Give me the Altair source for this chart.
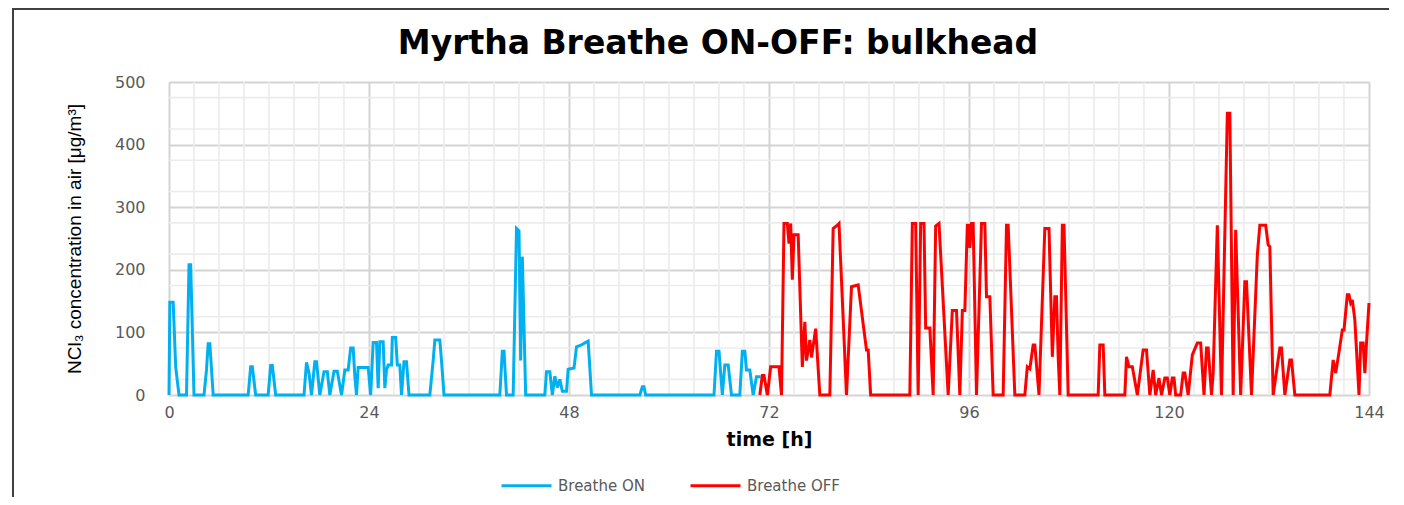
import altair as alt
import pandas as pd

# ---- data ----
on_t = [0.0, 0.1, 0.5, 0.8, 1.2, 2.1, 2.4, 2.6, 3.0, 4.2, 4.5, 4.7, 4.9, 5.3,
        9.5, 9.8, 10.0, 10.4, 11.9, 12.2, 12.4, 12.8,
        16.2, 16.5, 16.8, 17.1, 17.5, 17.7, 18.1, 18.6, 19.0, 19.3, 19.8, 20.2, 20.7,
        21.1, 21.5, 21.8, 22.1, 22.3, 22.5, 22.7, 23.9, 24.2, 24.5, 24.9, 25.1, 25.3,
        25.7, 25.9, 26.1, 26.3, 26.7, 26.8, 27.2, 27.4, 27.7, 27.9, 28.2, 28.5, 28.8,
        31.3, 31.7, 31.9, 32.5, 32.7, 33.0, 39.7, 40.0, 40.2, 40.5,
        41.3, 41.7, 42.0, 42.2, 42.4, 42.8,
        45.1, 45.3, 45.7, 46.0, 46.3, 46.6, 46.9, 47.2, 47.7, 47.9, 48.6, 48.9, 49.5,
        50.0, 50.3, 50.7, 56.5, 56.8, 57.0, 57.2,
        65.4, 65.7, 66.0, 66.4, 66.7, 67.1, 67.5, 68.5, 68.8, 69.1, 69.3, 69.7, 70.1,
        70.5, 70.9, 71.0]
on_v = [0, 148, 148, 45, 0, 0, 208, 208, 0, 0, 40, 82, 82, 0,
        0, 45, 45, 0, 0, 47, 47, 0,
        0, 52, 35, 0, 53, 53, 0, 37, 37, 0, 38, 38, 0,
        40, 40, 75, 75, 30, 0, 44, 44, 0, 84, 84, 11, 85,
        85, 11, 40, 48, 48, 92, 92, 48, 48, 0, 53, 53, 0,
        0, 55, 88, 88, 55, 0, 0, 70, 70, 0,
        0, 266, 262, 55, 221, 0,
        0, 37, 37, 0, 30, 12, 25, 6, 6, 41, 43, 77, 80,
        84, 86, 0, 0, 13, 13, 0,
        0, 70, 70, 0, 48, 48, 0, 0, 70, 70, 40, 40, 0,
        29, 29, 29]

off_t = [70.9, 71.2, 71.4, 71.8, 72.2, 73.2, 73.5, 73.8, 74.2, 74.4, 74.6, 74.8,
         75.0, 75.5, 76.0, 76.3, 76.5, 76.9, 77.1, 77.6, 78.1,
         79.3, 79.7, 80.1, 80.4, 81.3, 81.9, 82.7, 83.7, 83.9, 84.2,
         88.9, 89.2, 89.6, 89.9, 90.2, 90.6, 90.8, 91.3, 91.7, 92.0, 92.4, 93.5,
         94.0, 94.5, 94.9, 95.2, 95.5, 95.8, 96.0, 96.1, 96.3, 96.5, 96.9,
         97.5, 97.9, 98.1, 98.5, 98.9, 100.1, 100.5, 100.7, 101.5,
         102.7, 103.0, 103.3, 103.7, 103.9, 104.4, 105.1, 105.6, 106.0, 106.3,
         106.5, 106.7, 106.9, 107.2, 107.4, 107.9,
         111.5, 111.7, 112.1, 112.3, 114.7, 114.9, 115.2, 115.6, 116.2, 116.9,
         117.3, 117.7, 118.1, 118.4, 118.8, 119.1, 119.5, 119.8, 120.1, 120.4,
         120.6, 120.8, 121.4, 121.7, 121.9, 122.3, 122.8, 123.4, 123.8, 124.2,
         124.5, 124.7, 125.1, 125.3, 125.8, 126.3, 127.0, 127.3, 127.7, 128.0,
         128.6, 129.1, 129.3, 129.9, 130.6, 130.9, 131.6, 131.9, 132.1, 132.5,
         133.3, 133.5, 133.9, 134.5, 134.7, 135.1,
         139.3, 139.7, 140.0, 140.3, 140.8, 141.0, 141.4, 141.6, 141.8, 142.0,
         142.3, 142.8, 143.0, 143.3, 143.5, 143.7, 144.0]
off_v = [0, 31, 31, 0, 45, 45, 0, 274, 274, 242, 274, 184,
         256, 256, 45, 117, 55, 88, 60, 106, 0,
         0, 266, 270, 274, 0, 173, 176, 72, 72, 0,
         0, 274, 274, 0, 274, 274, 107, 107, 0, 270, 274, 0,
         135, 135, 0, 135, 135, 271, 271, 235, 274, 274, 0,
         274, 274, 157, 157, 0, 0, 271, 271, 0,
         0, 45, 42, 80, 80, 0, 266, 266, 61, 157,
         157, 61, 0, 271, 271, 0,
         0, 80, 80, 0, 0, 61, 45, 45, 0, 72,
         72, 0, 40, 0, 27, 0, 27, 27, 0, 27,
         27, 0, 0, 35, 35, 0, 64, 83, 83, 0,
         75, 75, 0, 35, 271, 0, 450, 450, 0, 264,
         0, 181, 181, 0, 224, 271, 271, 240, 237, 0,
         75, 75, 0, 56, 56, 0,
         0, 56, 35, 60, 104, 104, 160, 160, 147, 152,
         120, 0, 83, 83, 35, 83, 147]

series_names = ["Breathe ON", "Breathe OFF"]
series_colors = ["#00B0F0", "#FF0000"]

x_major = [0, 24, 48, 72, 96, 120, 144]
y_major = [0, 50, 100, 150, 200, 250, 300, 350, 400, 450, 500]
x_minor = [h for h in range(3, 144, 3) if h % 24 != 0]
y_minor = [25, 75, 125, 175, 225, 275, 325, 375, 425, 475]

title_text = "Myrtha Breathe ON-OFF: bulkhead"
x_title = "time [h]"
y_title = "NCl\u2083 concentration in air [\u03bcg/m\u00b3]"

# ---- tables ----
df = pd.concat([
    pd.DataFrame({"t": on_t, "v": on_v, "series": series_names[0]}),
    pd.DataFrame({"t": off_t, "v": off_v, "series": series_names[1]}),
], ignore_index=True)
df_xminor = pd.DataFrame({"t": x_minor})
df_yminor = pd.DataFrame({"v": y_minor})

x_scale = alt.Scale(domain=[0, 144], nice=False, zero=False)
y_scale = alt.Scale(domain=[0, 500], nice=False)

minor_col = "#ececec"
major_col = "#d4d4d4"

vminor = alt.Chart(df_xminor).mark_rule(color=minor_col, strokeWidth=1.6).encode(
    x=alt.X("t:Q", scale=x_scale)
)
hminor = alt.Chart(df_yminor).mark_rule(color=minor_col, strokeWidth=1.6).encode(
    y=alt.Y("v:Q", scale=y_scale)
)

lines = alt.Chart(df).mark_line(strokeWidth=3, strokeJoin="miter", strokeMiterLimit=3).encode(
    x=alt.X("t:Q", scale=x_scale,
            axis=alt.Axis(values=x_major, title=x_title, grid=True, gridColor=major_col,
                          gridWidth=2, domain=False, ticks=False, labelPadding=9,
                          labelFlush=False,
                          labelFont="DejaVu Sans", labelFontSize=16, labelColor="#595959",
                          titleFont="DejaVu Sans", titleFontSize=19, titleFontWeight="bold",
                          titleColor="#000000", titlePadding=10)),
    y=alt.Y("v:Q", scale=y_scale,
            axis=alt.Axis(values=y_major, title=y_title, grid=True, gridColor=major_col,
                          gridWidth=1.8, domain=False, ticks=False, labelPadding=24,
                          labelFlush=False,
                          labelFont="DejaVu Sans", labelFontSize=16, labelColor="#595959",
                          titleFont="Liberation Sans Narrow, Liberation Sans",
                          titleFontSize=19, titleFontWeight="normal", titleColor="#000000",
                          titleX=-95, titleY=156.5, titleAngle=270, titleAlign="center",
                          titleBaseline="middle")),
    color=alt.Color("series:N",
                    scale=alt.Scale(domain=series_names, range=series_colors),
                    legend=alt.Legend(orient="none", legendX=331, legendY=377,
                                      direction="horizontal", title=None,
                                      symbolType="stroke", symbolSize=2500,
                                      symbolStrokeWidth=3, labelFont="DejaVu Sans",
                                      labelFontSize=15, labelColor="#595959",
                                      labelOffset=5, columnPadding=39, padding=0)),
    detail="series:N",
)

frame_left = alt.Chart(alt.Data(values=[{}])).mark_rule(color="#404040", strokeWidth=2).encode(
    x=alt.value(-156), y=alt.value(-73), y2=alt.value(423)
)
frame_top = alt.Chart(alt.Data(values=[{}])).mark_rule(color="#404040", strokeWidth=2).encode(
    x=alt.value(-157), x2=alt.value(1240), y=alt.value(-73)
)

chart = alt.layer(vminor, hminor, lines, frame_left, frame_top).properties(
    width=1200,
    height=313,
    autosize=alt.AutoSizeParams(type="none"),
    padding={"left": 161, "top": 74, "right": 20, "bottom": 102},
    title=alt.TitleParams(title_text, font="DejaVu Sans", fontSize=33, fontWeight="bold",
                          color="#000000", anchor="middle", dx=-51, offset=-79,
                          baseline="alphabetic"),
).configure_view(stroke=None).configure(background="white")

chart.save("out.html", embed_options={"renderer": "svg", "actions": False})
